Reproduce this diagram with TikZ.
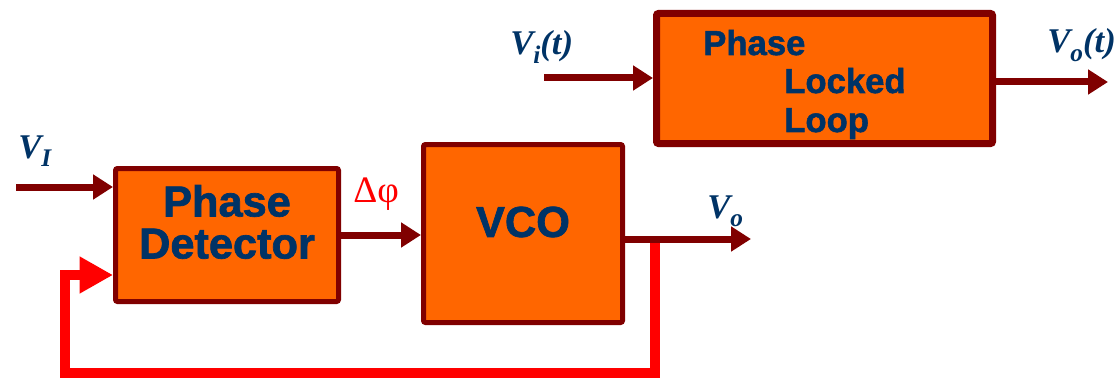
\documentclass[tikz,border=0pt]{standalone}
\usepackage{fontspec}
\setmainfont{Liberation Serif}
\newfontfamily\arialb[FakeBold=1.6]{Liberation Sans Bold}
\usetikzlibrary{arrows.meta}
\definecolor{boxfill}{HTML}{FF6600}
\definecolor{boxline}{HTML}{800000}
\definecolor{txtblue}{HTML}{003366}
\definecolor{fbred}{HTML}{FF0000}
\newcommand\sbs[1]{\raisebox{-6.5pt}{\fontsize{19}{19}\selectfont #1}}
\begin{document}
\begin{tikzpicture}[x=0.75pt,y=-0.75pt,
  blk/.style={draw=boxline, fill=boxfill, line width=3.75pt, rounded corners=1.5pt, inner sep=0pt},
  blkbig/.style={blk, line width=5.25pt},
  blktext/.style={text=txtblue, font=\arialb\fontsize{32.5}{31.5}\selectfont, align=center, inner sep=0pt},
  plltext/.style={text=txtblue, font=\arialb\fontsize{26}{26}\selectfont, inner sep=0pt, anchor=base west},
  sig/.style={draw=boxline, line width=5.25pt, -{Triangle[length=15pt,width=18pt]}},
  fb/.style={draw=fbred, line width=7.5pt, line join=miter, -{Triangle[length=25pt,width=26pt]}},
  vlab/.style={text=txtblue, font=\bfseries\itshape\fontsize{26}{26}\selectfont, inner sep=0pt, anchor=base west},
  dlab/.style={text=fbred, font=\fontsize{28}{28}\selectfont, inner sep=0pt, anchor=base west},
]
\useasboundingbox (0,0) rectangle (1117,378);

% blocks
\node[blk, minimum width=167.25pt, minimum height=99.75pt] (pd) at (227,235) {};
\node[blk, minimum width=149.25pt, minimum height=133.5pt] (vco) at (523,233.5) {};
\node[blkbig, minimum width=252pt, minimum height=97.5pt] (pll) at (824.5,78.5) {};

% block texts
\node[blktext] (pdt) at (227,222) {Phase\\Detector};
\node[blktext] (vcot) at (523,222) {VCO};
\node[plltext] (pll1) at (703,55) {Phase};
\node[plltext] (pll2) at (784,93) {Locked};
\node[plltext] (pll3) at (784,132) {Loop};

% coordinates
\coordinate (vin) at (16,187);
\coordinate (tap) at (655,239);
\coordinate (vout) at (751,239);
\coordinate (fbr) at (655,373);
\coordinate (fbl) at (65,373);
\coordinate (fbin) at (65,275);
\coordinate (pin) at (544,78);
\coordinate (pout) at (1108,82);

% feedback
\draw[fb] (tap) -- (fbr) -- (fbl) -- (fbin) -- (fbin -| pd.west);

% signals
\draw[sig] (vin) -- (vin -| pd.west);
\draw[sig] (pd.east) -- (pd.east -| vco.west);
\draw[sig] (tap -| vco.east) -- (vout);
\draw[sig] (pin) -- (pin -| pll.west);
\draw[sig] (pout -| pll.east) -- (pout);

% labels
\node[vlab] (lvi) at (18,158) {V\sbs{I}};
\node[dlab] (ldp) at (353,202) {Δφ};
\node[vlab] (lvo) at (707,218) {V\sbs{o}};
\node[vlab] (lvit) at (510,55) {V\sbs{i}(t)};
\node[vlab] (lvot) at (1047,53) {V\sbs{o}(t)};
\end{tikzpicture}
\end{document}
